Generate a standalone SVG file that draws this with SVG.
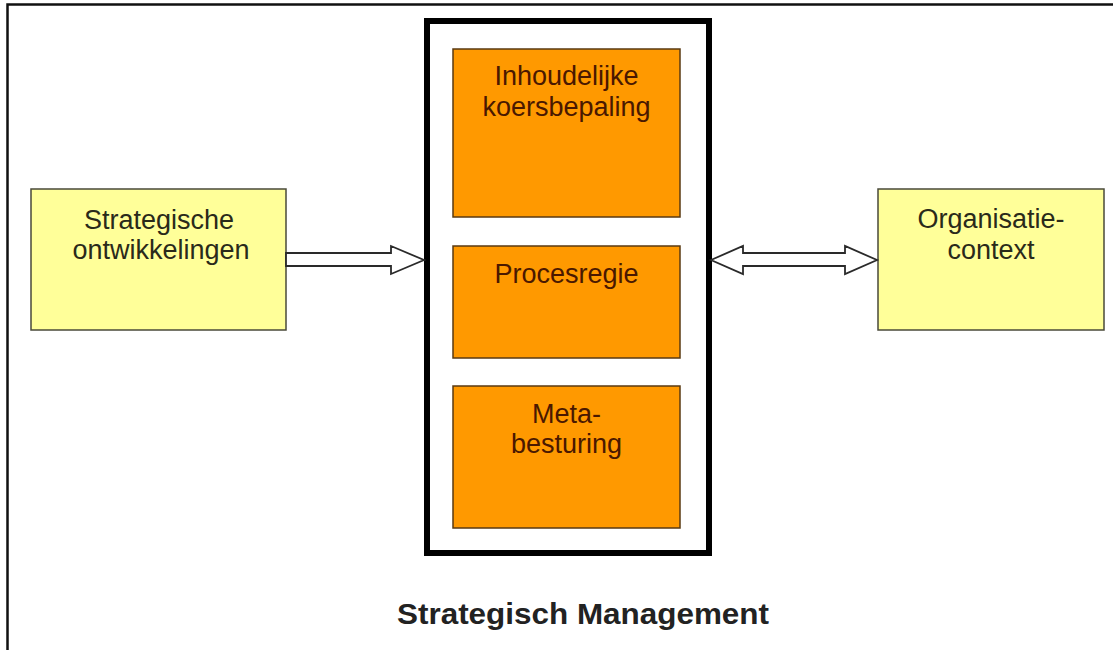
<svg xmlns="http://www.w3.org/2000/svg" width="1113" height="650" viewBox="0 0 1113 650">
<style>
.frame{fill:none;stroke:#111;stroke-width:2.5}
.yellow{fill:#FFFF99;stroke:#4a4a3a;stroke-width:1.5}
.orange{fill:#FF9900;stroke:#5a3a12;stroke-width:1.5}
.container{fill:#fff;stroke:#000;stroke-width:6}
.arrow{fill:#fff;stroke:#2a2a2a;stroke-width:1.8;stroke-linejoin:miter}
.t{font-family:"Liberation Sans",Arial,sans-serif;font-size:27px;text-anchor:middle}
.ty{fill:#2a2a1a}
.to{fill:#4a1800}
.title{font-family:"Liberation Sans",Arial,sans-serif;font-size:29px;font-weight:bold;fill:#222;text-anchor:middle}
</style>
<rect width="1113" height="650" fill="#fff"/>
<path class="frame" d="M7.5,650 V4.5 H1113"/>
<g id="strategisch-management">
<rect class="container" x="427" y="21" width="282" height="532"/>
<text class="title" x="583" y="624" textLength="372" lengthAdjust="spacingAndGlyphs">Strategisch Management</text>
</g>
<g id="inhoudelijke-koersbepaling">
<rect class="orange" x="453" y="49" width="227" height="168"/>
<text class="t to" x="566.5" y="85">Inhoudelijke</text>
<text class="t to" x="566.5" y="116">koersbepaling</text>
</g>
<g id="procesregie">
<rect class="orange" x="453" y="246" width="227" height="112"/>
<text class="t to" x="566.5" y="283">Procesregie</text>
</g>
<g id="meta-besturing">
<rect class="orange" x="453" y="386" width="227" height="142"/>
<text class="t to" x="566.5" y="423">Meta-</text>
<text class="t to" x="566.5" y="453">besturing</text>
</g>
<g id="strategische-ontwikkelingen">
<rect class="yellow" x="31" y="189" width="255" height="141"/>
<text class="t ty" x="159" y="229">Strategische</text>
<text class="t ty" x="161" y="259">ontwikkelingen</text>
</g>
<g id="organisatie-context">
<rect class="yellow" x="878" y="189" width="226" height="141"/>
<text class="t ty" x="991" y="228">Organisatie-</text>
<text class="t ty" x="991" y="259">context</text>
</g>
<g id="connectors">
<polygon class="arrow" points="286,253 391,253 391,246 424,260 391,274 391,266 286,266"/>
<polygon class="arrow" points="711,260 743,246 743,253 845,253 845,246 877,260 845,274 845,266 743,266 743,274"/>
</g>
</svg>
